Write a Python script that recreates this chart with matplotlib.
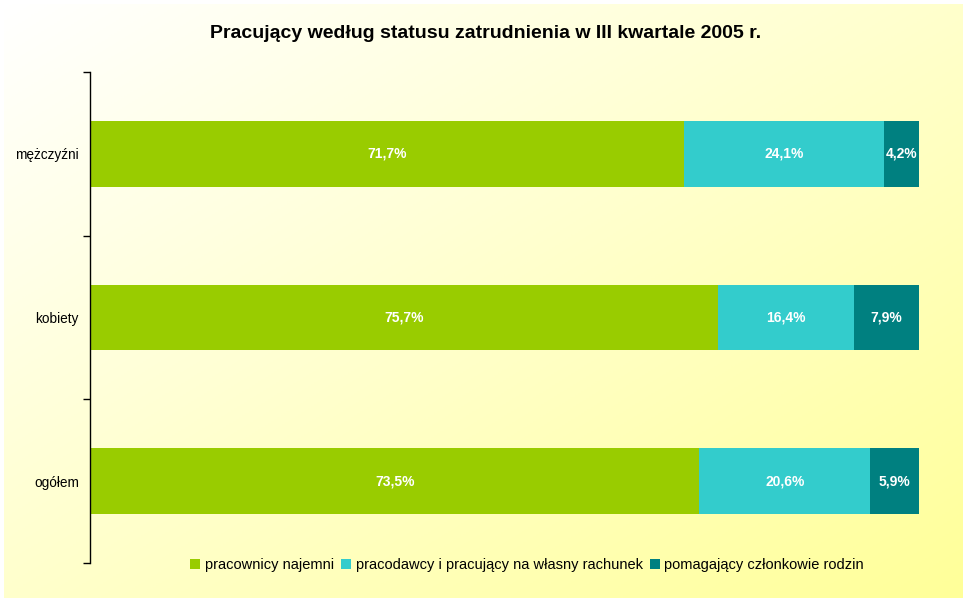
import numpy as np
import matplotlib
matplotlib.use("Agg")
import matplotlib.pyplot as plt
from matplotlib.colors import LinearSegmentedColormap
from matplotlib.patches import Patch

plt.rcParams['font.family'] = ['Liberation Sans', 'DejaVu Sans']

categories = ["mężczyźni", "kobiety", "ogółem"]
series_names = ["pracownicy najemni",
                "pracodawcy i pracujący na własny rachunek",
                "pomagający członkowie rodzin"]
hired = [71.7, 75.7, 73.5]
employers = [24.1, 16.4, 20.6]
helping = [4.2, 7.9, 5.9]
colors = ["#99CC00", "#33CCCC", "#008080"]
title = "Pracujący według statusu zatrudnienia w III kwartale 2005 r."

W, H = 970, 604
fig = plt.figure(figsize=(W / 100, H / 100), dpi=100)
fig.patch.set_facecolor("white")

# gradient background
bx0, bx1, by0, by1 = 4, 963, 4, 598
bg = fig.add_axes([bx0 / W, 1 - by1 / H, (bx1 - bx0) / W, (by1 - by0) / H], zorder=-10)
xx, yy = np.meshgrid(np.linspace(0, 1, 300), np.linspace(0, 1, 300))
grad = (xx + yy) / 2
cmap = LinearSegmentedColormap.from_list("bg", ["#FFFFFF", "#FFFFCC", "#FFFF99"])
bg.imshow(grad, cmap=cmap, aspect="auto", extent=[0, 1, 1, 0], origin="upper")
bg.set_axis_off()

ax = fig.add_axes([90 / W, 1 - 563 / H, (919 - 90) / W, (563 - 72) / H])
ax.patch.set_alpha(0)

ypos = np.arange(len(categories))[::-1]
left = np.zeros(len(categories))
series = [hired, employers, helping]
for vals, col, name in zip(series, colors, series_names):
    vals = np.array(vals)
    ax.barh(ypos, vals, left=left, height=0.4, color=col, label=name)
    for y, l, v in zip(ypos, left, vals):
        ax.text(l + v / 2, y, f"{v:.1f}%".replace(".", ","), ha="center", va="center",
                color="white", fontweight="bold", fontsize=10)
    left = left + vals

ax.set_xlim(0, 100)
ax.set_ylim(-0.5, 2.5)
ax.set_yticks(ypos)
ax.set_yticklabels(categories, fontsize=9.8)
ax.tick_params(axis="y", which="major", length=0, pad=8)
ax.set_yticks(np.arange(-0.5, 3.0, 1.0), minor=True)
ax.tick_params(axis="y", which="minor", length=5, width=1, color="black")
ax.set_xticks([])
for s in ["top", "right", "bottom"]:
    ax.spines[s].set_visible(False)
ax.spines["left"].set_linewidth(1)

fig.text(486 / W, 1 - 33 / H, title, ha="center", va="center",
         fontsize=14, fontweight="bold")

handles = [Patch(facecolor=c, label=n) for c, n in zip(colors, series_names)]
fig.legend(handles=handles, loc="center", bbox_to_anchor=(527 / W, 1 - 565 / H),
           ncol=3, frameon=False, fontsize=10.5, handlelength=0.7, handleheight=0.7,
           handletextpad=0.3, columnspacing=0.5)

fig.savefig("out.png", dpi=100)
